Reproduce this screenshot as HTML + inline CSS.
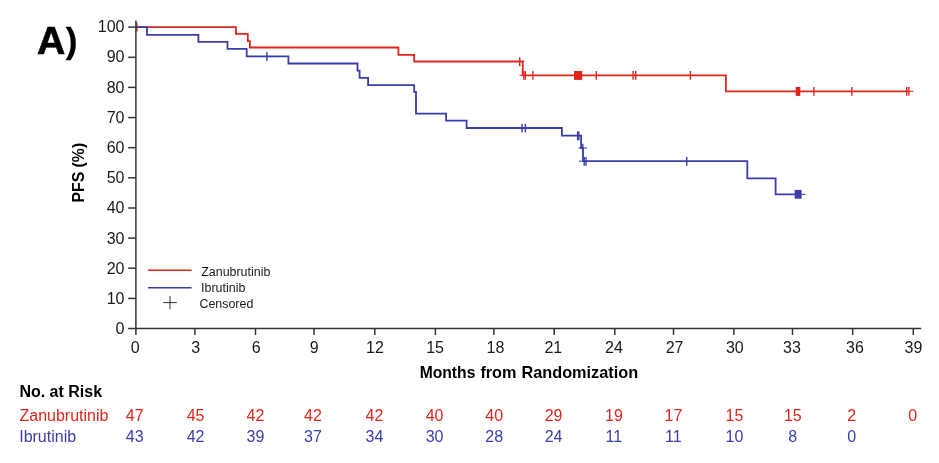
<!DOCTYPE html>
<html><head><meta charset="utf-8"><title>PFS Kaplan-Meier</title>
<style>
html,body{margin:0;padding:0;background:#fff;}
svg{display:block;filter:blur(0.4px);}
text{font-family:"Liberation Sans",Arial,sans-serif;}
</style></head><body>
<svg width="939" height="463" viewBox="0 0 939 463">
<rect width="939" height="463" fill="#fff"/>

<text transform="translate(37.1,53.6) scale(1.06,1.045)" font-size="37" font-weight="bold" fill="#000" stroke="#000" stroke-width="0.6">A</text><text transform="translate(65.7,53.1) scale(0.95,0.966)" font-size="37" font-weight="bold" fill="#000" stroke="#000" stroke-width="0.3">)</text>
<text transform="translate(84.2,202.5) rotate(-90) scale(1,1.08)" font-size="15.8" font-weight="bold" fill="#000">PFS (%)</text>
<g stroke="#333333" stroke-width="1.5" fill="none">
<path d="M128.1 328.5H921.2"/>
<path d="M128.1 27.1H135.9"/>
<path d="M128.1 57.3H135.9"/>
<path d="M128.1 87.4H135.9"/>
<path d="M128.1 117.6H135.9"/>
<path d="M128.1 147.7H135.9"/>
<path d="M128.1 177.8H135.9"/>
<path d="M128.1 208.0H135.9"/>
<path d="M128.1 238.1H135.9"/>
<path d="M128.1 268.2H135.9"/>
<path d="M128.1 298.4H135.9"/>
<path d="M135.9 328.5V335.0"/>
<path d="M194.9 328.5V335.0"/>
<path d="M255.5 328.5V335.0"/>
<path d="M314.0 328.5V335.0"/>
<path d="M374.8 328.5V335.0"/>
<path d="M435.4 328.5V335.0"/>
<path d="M493.9 328.5V335.0"/>
<path d="M554.2 328.5V335.0"/>
<path d="M614.8 328.5V335.0"/>
<path d="M673.5 328.5V335.0"/>
<path d="M733.9 328.5V335.0"/>
<path d="M792.5 328.5V335.0"/>
<path d="M852.7 328.5V335.0"/>
<path d="M913.3 328.5V335.0"/>
</g>
<g fill="#1a1a1a">
<text transform="translate(124.5,32.3) scale(1,1)" font-size="16" text-anchor="end">100</text>
<text transform="translate(124.5,62.4) scale(1,1)" font-size="16" text-anchor="end">90</text>
<text transform="translate(124.5,92.6) scale(1,1)" font-size="16" text-anchor="end">80</text>
<text transform="translate(124.5,122.8) scale(1,1)" font-size="16" text-anchor="end">70</text>
<text transform="translate(124.5,152.9) scale(1,1)" font-size="16" text-anchor="end">60</text>
<text transform="translate(124.5,183.1) scale(1,1)" font-size="16" text-anchor="end">50</text>
<text transform="translate(124.5,213.3) scale(1,1)" font-size="16" text-anchor="end">40</text>
<text transform="translate(124.5,243.5) scale(1,1)" font-size="16" text-anchor="end">30</text>
<text transform="translate(124.5,273.6) scale(1,1)" font-size="16" text-anchor="end">20</text>
<text transform="translate(124.5,303.8) scale(1,1)" font-size="16" text-anchor="end">10</text>
<text transform="translate(124.5,334.0) scale(1,1)" font-size="16" text-anchor="end">0</text>
</g>
<g fill="#1a1a1a">
<text transform="translate(135.3,352.8) scale(1,1)" font-size="16" text-anchor="middle">0</text>
<text transform="translate(195.6,352.8) scale(1,1)" font-size="16" text-anchor="middle">3</text>
<text transform="translate(256.2,352.8) scale(1,1)" font-size="16" text-anchor="middle">6</text>
<text transform="translate(314.2,352.8) scale(1,1)" font-size="16" text-anchor="middle">9</text>
<text transform="translate(375.0,352.8) scale(1,1)" font-size="16" text-anchor="middle">12</text>
<text transform="translate(435.1,352.8) scale(1,1)" font-size="16" text-anchor="middle">15</text>
<text transform="translate(495.4,352.8) scale(1,1)" font-size="16" text-anchor="middle">18</text>
<text transform="translate(553.3,352.8) scale(1,1)" font-size="16" text-anchor="middle">21</text>
<text transform="translate(613.9,352.8) scale(1,1)" font-size="16" text-anchor="middle">24</text>
<text transform="translate(674.6,352.8) scale(1,1)" font-size="16" text-anchor="middle">27</text>
<text transform="translate(734.8,352.8) scale(1,1)" font-size="16" text-anchor="middle">30</text>
<text transform="translate(791.9,352.8) scale(1,1)" font-size="16" text-anchor="middle">33</text>
<text transform="translate(854.9,352.8) scale(1,1)" font-size="16" text-anchor="middle">36</text>
<text transform="translate(913.5,352.8) scale(1,1)" font-size="16" text-anchor="middle">39</text>
</g>
<g font-size="16.2" font-weight="bold" fill="#000"><text x="419.65" y="378.0" textLength="55.75" lengthAdjust="spacingAndGlyphs">Months</text><text x="480.4" y="378.0" textLength="36.1" lengthAdjust="spacingAndGlyphs">from</text><text x="521.4" y="378.0" textLength="116.8" lengthAdjust="spacingAndGlyphs">Randomization</text></g>
<g stroke="#e0261c" stroke-width="1.4"><path d="M136.9 22.70V31.50"/></g>
<path d="M135.9 27.2H235.9V33.8H247.8V41.1H249.9V47.5H398.4V54.9H414.2V61.5H522.7V75.3H725.9V91.35H909.2" stroke="#e0261c" stroke-width="1.8" fill="none"/>
<path d="M135.9 27.2H147.0V34.9H198.4V41.8H227.5V48.9H246.7V56.4H288.4V63.5H357.5V70.6H359.6V77.8H368.1V85.1H414.2V91.8H416.0V113.7H446.1V120.7H466.6V128.0H561.9V135.7H581.1V148.0H583.0V161.2H747.3V178.3H775.6V194.35H801" stroke="#3b3ea8" stroke-width="1.8" fill="none"/>
<g stroke="#e0261c" stroke-width="1.4"><path d="M519.7 57.20V66.00"/><path d="M523.9 71.00V79.80"/><path d="M525.3 71.00V79.80"/><path d="M532.9 71.00V79.80"/><path d="M596.3 71.00V79.80"/><path d="M633.1 71.00V79.80"/><path d="M635.7 71.00V79.80"/><path d="M690.4 71.00V79.80"/><path d="M813.9 87.00V95.80"/><path d="M851.8 87.00V95.80"/><path d="M906.7 87.00V95.80"/><path d="M908.9 87.00V95.80"/></g>
<rect x="574.0" y="71.0" width="8.2" height="8.9" fill="#e0261c"/>
<rect x="795.7" y="87.0" width="4.6" height="8.9" fill="#e0261c"/>
<path d="M519.4 75.3H523M522 61.5H524.6M909 91.35H913.3" stroke="#e0261c" stroke-width="1"/>
<g stroke="#3b3ea8" stroke-width="1.4"><path d="M266.9 52.10V60.90"/><path d="M522.0 123.70V132.50"/><path d="M525.4 123.70V132.50"/><path d="M577.6 131.40V140.20"/><path d="M578.8 131.40V140.20"/><path d="M582.8 143.70V152.50"/><path d="M584.2 156.90V165.70"/><path d="M586.0 156.90V165.70"/><path d="M686.7 156.90V165.70"/></g>
<path d="M578.5 148H587.2M579 161.2H583M801 194.35H805.5" stroke="#3b3ea8" stroke-width="1"/>
<rect x="794.7" y="189.9" width="6.9" height="8.8" fill="#3b3ea8"/>
<path d="M135.9 20.4V328.5" stroke="#333333" stroke-width="1.5"/>
<path d="M148 270.2H191.6" stroke="#e0261c" stroke-width="1.5"/>
<path d="M148 287.7H191.6" stroke="#3b3ea8" stroke-width="1.5"/>
<path d="M163.2 302.6H176.8M170 296V309.2" stroke="#333333" stroke-width="1"/>
<g fill="#1a1a1a"><text transform="translate(201.2,275.6) scale(1,1)" font-size="12.45">Zanubrutinib</text><text transform="translate(201.1,291.5) scale(1,1)" font-size="12.45">Ibrutinib</text><text transform="translate(199.4,307.8) scale(1,1)" font-size="12.45">Censored</text></g>
<text transform="translate(19.4,396.6) scale(1,1)" font-size="16" font-weight="bold" fill="#000">No. at Risk</text>
<g fill="#e0261c"><text transform="translate(19.5,420.8) scale(1,1)" font-size="16">Zanubrutinib</text>
<text transform="translate(134.7,420.8) scale(1,1)" font-size="16" text-anchor="middle">47</text>
<text transform="translate(195.6,420.8) scale(1,1)" font-size="16" text-anchor="middle">45</text>
<text transform="translate(255.4,420.8) scale(1,1)" font-size="16" text-anchor="middle">42</text>
<text transform="translate(312.9,420.8) scale(1,1)" font-size="16" text-anchor="middle">42</text>
<text transform="translate(374.5,420.8) scale(1,1)" font-size="16" text-anchor="middle">42</text>
<text transform="translate(434.6,420.8) scale(1,1)" font-size="16" text-anchor="middle">40</text>
<text transform="translate(494.2,420.8) scale(1,1)" font-size="16" text-anchor="middle">40</text>
<text transform="translate(553.6,420.8) scale(1,1)" font-size="16" text-anchor="middle">29</text>
<text transform="translate(613.9,420.8) scale(1,1)" font-size="16" text-anchor="middle">19</text>
<text transform="translate(673.4,420.8) scale(1,1)" font-size="16" text-anchor="middle">17</text>
<text transform="translate(734.4,420.8) scale(1,1)" font-size="16" text-anchor="middle">15</text>
<text transform="translate(792.8,420.8) scale(1,1)" font-size="16" text-anchor="middle">15</text>
<text transform="translate(851.7,420.8) scale(1,1)" font-size="16" text-anchor="middle">2</text>
<text transform="translate(912.7,420.8) scale(1,1)" font-size="16" text-anchor="middle">0</text>
</g>
<g fill="#3b3ea8"><text transform="translate(19.2,441.8) scale(1,1)" font-size="16">Ibrutinib</text>
<text transform="translate(134.7,441.8) scale(1,1)" font-size="16" text-anchor="middle">43</text>
<text transform="translate(195.6,441.8) scale(1,1)" font-size="16" text-anchor="middle">42</text>
<text transform="translate(255.4,441.8) scale(1,1)" font-size="16" text-anchor="middle">39</text>
<text transform="translate(312.9,441.8) scale(1,1)" font-size="16" text-anchor="middle">37</text>
<text transform="translate(374.5,441.8) scale(1,1)" font-size="16" text-anchor="middle">34</text>
<text transform="translate(434.6,441.8) scale(1,1)" font-size="16" text-anchor="middle">30</text>
<text transform="translate(494.2,441.8) scale(1,1)" font-size="16" text-anchor="middle">28</text>
<text transform="translate(553.6,441.8) scale(1,1)" font-size="16" text-anchor="middle">24</text>
<text transform="translate(613.9,441.8) scale(1,1)" font-size="16" text-anchor="middle">11</text>
<text transform="translate(673.4,441.8) scale(1,1)" font-size="16" text-anchor="middle">11</text>
<text transform="translate(734.4,441.8) scale(1,1)" font-size="16" text-anchor="middle">10</text>
<text transform="translate(792.8,441.8) scale(1,1)" font-size="16" text-anchor="middle">8</text>
<text transform="translate(851.7,441.8) scale(1,1)" font-size="16" text-anchor="middle">0</text>
</g>
</svg></body></html>
